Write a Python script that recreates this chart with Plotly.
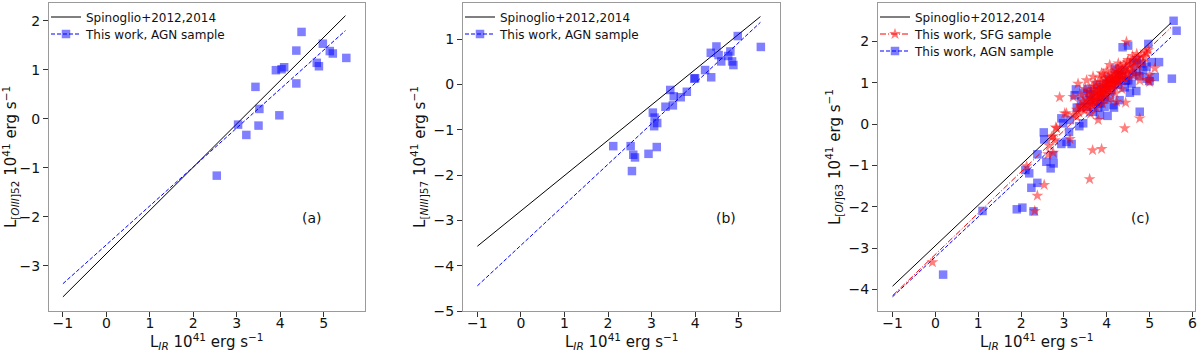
import numpy as np
import plotly.graph_objects as go

# ── Datos ──────────────────────────────────────────────────────────────────
# (a) [OIII]52, AGN
a_agn_x = [4.49, 4.98, 5.14, 5.21, 5.52, 4.37, 4.84, 4.89, 3.90, 4.03, 4.09, 4.37,
           3.43, 3.52, 3.98, 3.03, 3.50, 3.22, 2.54]
a_agn_y = [1.77, 1.53, 1.38, 1.33, 1.24, 1.39, 1.14, 1.07, 0.99, 1.01, 1.05, 0.72,
           0.65, 0.20, 0.07, -0.12, -0.14, -0.33, -1.16]

# (b) [NIII]57, AGN
b_agn_x = [4.98, 5.51, 4.49, 4.36, 4.54, 4.60, 4.81, 4.76, 4.85, 4.88, 4.23, 4.37,
           3.98, 4.00, 3.81, 3.67, 3.51, 3.43, 3.49, 3.32, 3.03, 3.07, 3.13, 3.06,
           3.12, 2.93, 2.12, 2.52, 2.58, 2.62, 2.55]
b_agn_y = [1.07, 0.83, 0.84, 0.70, 0.65, 0.51, 0.73, 0.63, 0.51, 0.43, 0.32, 0.16,
           0.13, 0.14, -0.16, -0.28, -0.26, -0.12, -0.46, -0.49, -0.62, -0.73, -0.85, -0.92,
           -1.38, -1.53, -1.36, -1.36, -1.55, -1.61, -1.91]

# (c) [OI]63, AGN
c_agn_x = [5.56, 5.63, 4.37, 4.50, 4.97, 5.22, 5.52, 5.12, 5.00, 4.76, 4.77, 4.69,
           4.54, 4.17, 4.02, 3.80, 3.74, 3.45, 3.36, 3.12, 2.98, 3.25, 3.28, 3.46,
           3.18, 2.94, 2.53, 2.54, 2.38, 2.59, 2.76, 2.69, 2.75, 2.19, 2.10, 2.38,
           2.24, 1.90, 2.03, 2.29, 1.10, 0.18, 2.94,
           4.19, 4.35, 4.62, 4.81, 4.93, 4.58, 4.42, 4.30, 3.88, 3.60, 3.68, 3.53,
           3.84, 3.14, 3.06, 3.99, 4.11, 4.23, 4.93, 4.69, 4.50, 4.15, 3.95,
           3.70, 3.62, 3.92, 4.05, 3.78, 4.28, 4.40, 3.55, 3.40, 3.30, 4.85, 5.05,
           4.70, 4.60, 4.25, 3.85, 4.08, 3.95, 4.45]
c_agn_y = [2.50, 2.26, 1.86, 1.90, 1.94, 1.50, 1.10, 1.14, 1.04, 1.16, 0.30, 0.80,
           0.76, 0.40, 0.20, 0.40, 0.54, 0.02, -0.05, -0.19, 0.02, 0.70, 0.84, 0.76,
           -0.48, -0.48, -0.20, -0.37, -0.73, -0.91, -0.95, -1.07, -0.75, -1.19, -1.11, -1.42,
           -1.54, -2.06, -2.02, -2.11, -2.10, -3.64, 0.14,
           1.34, 1.16, 1.47, 1.47, 1.39, 0.98, 0.89, 0.58, 0.66, 0.58, 0.30, 0.42,
           0.22, 0.10, -0.43, 0.98, 0.82, 1.06, 1.10, 1.27, 1.06, 0.46, 0.42,
           0.80, 0.72, 0.85, 1.10, 0.95, 1.20, 1.30, 0.85, 0.55, 0.40, 1.30, 1.50,
           1.55, 1.20, 0.95, 0.50, 0.65, 0.60, 1.05]

# (c) [OI]63, SFG
c_sfg_x = [4.46, 4.97, 4.93, 5.12, 5.00, 4.77, 4.50, 4.44, 4.23, 4.77, 4.42, 3.88,
           3.67, 3.60, 3.80, 2.90, 3.22, 3.02, 3.22, 2.83, 2.75, 2.79, 2.66, 3.14,
           2.63, 2.75, 2.13, 2.54, 2.38, 2.32, -0.07, 3.29, 3.41, 3.33, 4.97, 5.00,
           4.77, 3.06, 2.81, 2.71,
           3.30, 3.35, 3.38, 3.42, 3.45, 3.48, 3.50, 3.52, 3.55, 3.57, 3.60, 3.60,
           3.62, 3.64, 3.65, 3.67, 3.68, 3.70, 3.71, 3.72, 3.74, 3.75, 3.76, 3.78,
           3.79, 3.80, 3.81, 3.82, 3.84, 3.85, 3.86, 3.87, 3.88, 3.89, 3.90, 3.91,
           3.92, 3.93, 3.94, 3.95, 3.96, 3.97, 3.98, 3.99, 4.00, 4.01, 4.02, 4.03,
           4.04, 4.05, 4.06, 4.07, 4.08, 4.09, 4.10, 4.11, 4.12, 4.13, 4.14, 4.15,
           4.16, 4.17, 4.18, 4.19, 4.20, 4.21, 4.22, 4.23, 4.24, 4.25, 4.26, 4.27,
           4.28, 4.30, 4.31, 4.32, 4.34, 4.35, 4.36, 4.38, 4.40, 4.41, 4.43, 4.45,
           4.47, 4.48, 4.50, 4.52, 4.55, 4.57, 4.60, 4.62, 4.65, 4.68, 4.72, 4.75,
           4.80, 4.85, 4.90, 3.58, 3.66, 3.73, 3.83, 3.92, 4.00, 3.40, 3.50, 3.62,
           3.75, 3.90, 4.05, 4.20, 4.35, 3.53, 3.68, 3.88, 4.07, 4.27, 4.60, 4.70,
           4.88]
c_sfg_y = [1.99, 1.79, 1.71, 1.35, 1.19, 1.19, 1.55, 0.52, 0.54, 0.14, -0.10, -0.60,
           -0.63, -1.33, 0.10, 0.65, 0.66, 0.26, 0.22, -0.10, -0.29, -0.39, -0.52, -0.36,
           -0.73, -0.69, -1.02, -1.47, -1.73, -2.10, -3.34, 0.18, 0.38, 0.98, 1.06, 1.02,
           1.06, 0.26, -0.08, -0.31,
           0.35, 0.28, 0.45, 0.40, 0.55, 0.32, 0.48, 0.62, 0.42, 0.55, 0.68, 0.38,
           0.50, 0.60, 0.75, 0.45, 0.58, 0.66, 0.82, 0.52, 0.70, 0.60, 0.90, 0.68,
           0.78, 0.55, 0.85, 0.72, 0.95, 0.65, 0.80, 0.75, 1.02, 0.70, 0.88, 0.62,
           0.82, 0.95, 0.76, 1.10, 0.86, 0.70, 0.92, 1.00, 0.80, 1.05, 0.90, 1.15,
           0.84, 0.98, 1.08, 0.76, 1.00, 1.20, 0.92, 1.06, 0.85, 1.12, 1.00, 1.25,
           0.95, 1.10, 1.18, 0.90, 1.05, 1.30, 1.14, 0.98, 1.22, 1.08, 1.35, 1.18,
           1.02, 1.26, 1.12, 1.40, 1.20, 1.05, 1.32, 1.15, 1.45, 1.25, 1.10, 1.38,
           1.22, 1.50, 1.30, 1.15, 1.42, 1.28, 1.55, 1.35, 1.20, 1.48, 1.60, 1.40,
           1.65, 1.50, 1.75, 0.78, 0.92, 1.00, 1.12, 1.20, 1.30, 0.70, 0.85, 0.25,
           0.40, 0.50, 0.60, 0.75, 0.85, 1.06, 1.15, 1.23, 1.43, 1.47, 1.65, 1.70,
           1.62]

# Ajustes lineales (pendiente, ordenada) y rango en L_IR
fit_x = [-1.0, 5.5]
a_spin = (0.882, -2.75)
a_agn_fit = (0.794, -2.57)
b_spin = (0.780, -2.79)
b_agn_fit = (0.895, -3.55)
c_spin = (0.980, -2.94)
c_sfg_fit = (0.998, -3.15)
c_agn_fit = (0.966, -3.21)

# ── Estilos ────────────────────────────────────────────────────────────────
FONT = "DejaVu Sans"
BLUE_M = "rgba(0,0,255,0.5)"
RED_M = "rgba(255,0,0,0.5)"
W, H = 1200.0, 351.0
PT, PB = 3, 311            # top / bottom of the plot area in px
DASH_B = "4px,2px"
DASH_R = "6px,2px,1px,2px"


def line_y(p):
    return list(np.polyval(p, fit_x))


fig = go.Figure()
legends = {}
n_leg = [0]


def new_legend(x_px, y_px):
    n_leg[0] += 1
    key = "legend" if n_leg[0] == 1 else f"legend{n_leg[0]}"
    legends[key] = dict(x=x_px / W, y=1 - (y_px - PT) / (PB - PT),
                        xanchor="left", yanchor="middle",
                        bgcolor="rgba(0,0,0,0)", itemwidth=30,
                        font=dict(family=FONT, size=12, color="#111"))
    return key


def add_panel(i, left_px, spin, fits, scatters):
    xa = "x" if i == 1 else f"x{i}"
    ya = "y" if i == 1 else f"y{i}"
    lg = new_legend(left_px - 3, 17)
    fig.add_trace(go.Scatter(x=fit_x, y=line_y(spin), mode="lines",
                             line=dict(color="black", width=1),
                             name="Spinoglio+2012,2014", legend=lg,
                             xaxis=xa, yaxis=ya))
    for (sx, sy, color, symbol, size, name) in scatters:
        fig.add_trace(go.Scatter(x=sx, y=sy, mode="markers", showlegend=False,
                                 marker=dict(color=color, symbol=symbol, size=size,
                                             line=dict(width=0)),
                                 xaxis=xa, yaxis=ya))
    for (p, lcolor, dash) in fits:
        fig.add_trace(go.Scatter(x=fit_x, y=line_y(p), mode="lines", showlegend=False,
                                 line=dict(color=lcolor, width=1, dash=dash),
                                 xaxis=xa, yaxis=ya))
    # entradas de leyenda (línea + marcador)
    for k, (sx, sy, color, symbol, size, name) in enumerate(scatters[::-1]):
        agn = "AGN" in name
        lg = new_legend(left_px - 3, 17 + 17 * (k + 1))
        fig.add_trace(go.Scatter(x=[None], y=[None], mode="lines+markers", name=name,
                                 marker=dict(color=color, symbol=symbol, size=size),
                                 line=dict(color="blue" if agn else "red", width=1,
                                           dash=DASH_B if agn else DASH_R),
                                 legend=lg, xaxis=xa, yaxis=ya))


domains = [(49, 365), (463, 780), (878, 1195)]

add_panel(1, domains[0][0], a_spin, [(a_agn_fit, "blue", DASH_B)],
          [(a_agn_x, a_agn_y, BLUE_M, "square", 8.5, "This work, AGN sample")])
add_panel(2, domains[1][0], b_spin, [(b_agn_fit, "blue", DASH_B)],
          [(b_agn_x, b_agn_y, BLUE_M, "square", 8.5, "This work, AGN sample")])
add_panel(3, domains[2][0], c_spin, [(c_sfg_fit, "red", DASH_R), (c_agn_fit, "blue", DASH_B)],
          [(c_agn_x, c_agn_y, BLUE_M, "square", 8.5, "This work, AGN sample"),
           (c_sfg_x, c_sfg_y, RED_M, "star", 9, "This work, SFG sample")])

xranges = [[-1.32, 5.95], [-1.33, 5.95], [-1.34, 6.06]]
yranges = [[-3.92, 2.36], [-5.0, 1.80], [-4.52, 2.93]]
xticks = [list(range(-1, 6)), list(range(-1, 6)), list(range(-1, 7))]
yticks = [list(range(-3, 3)), list(range(-5, 2)), list(range(-4, 3))]
ytitles = ["L<sub>[<i>OIII</i>]52</sub> 10<sup>41</sup> erg s<sup>−1</sup>",
           "L<sub>[<i>NIII</i>]57</sub> 10<sup>41</sup> erg s<sup>−1</sup>",
           "L<sub>[<i>OI</i>]63</sub> 10<sup>41</sup> erg s<sup>−1</sup>"]
labels = [("(a)", 4.72, -2.03), ("(b)", 4.72, -2.94), ("(c)", 4.79, -2.28)]


def tick_text(vals):
    return [str(v).replace("-", "\u2212") for v in vals]


axis_common = dict(showline=True, mirror=True, linecolor="#9a9a9a", linewidth=1,
                   ticks="outside", ticklen=5, tickcolor="#333", showgrid=False,
                   zeroline=False, automargin=False,
                   tickfont=dict(family=FONT, size=14, color="#111"))

layout = dict(width=1200, height=351, margin=dict(l=0, r=0, t=PT, b=H - PB),
              plot_bgcolor="white", paper_bgcolor="white",
              font=dict(family=FONT, color="#111"), annotations=[])
layout.update(legends)

for i in range(3):
    sx = "" if i == 0 else str(i + 1)
    d0, d1 = domains[i]
    layout[f"xaxis{sx}"] = dict(domain=[d0 / W, d1 / W], range=xranges[i],
                                tickvals=xticks[i], ticktext=tick_text(xticks[i]),
                                ticklabelstandoff=-6,
                                anchor=f"y{sx}", **axis_common)
    layout[f"yaxis{sx}"] = dict(domain=[0, 1], range=yranges[i],
                                tickvals=yticks[i], ticktext=tick_text(yticks[i]),
                                title=dict(text=ytitles[i], standoff=4,
                                           font=dict(family=FONT, size=15, color="#111")),
                                anchor=f"x{sx}", **axis_common)
    layout["annotations"].append(dict(
        text="L<sub><i>IR</i></sub> 10<sup>41</sup> erg s<sup>−1</sup>",
        xref="paper", yref="paper", x=(d0 + d1) / 2 / W, y=(PB - 341) / (PB - PT),
        xanchor="center", yanchor="middle", showarrow=False,
        font=dict(family=FONT, size=15, color="#111")))
    t, tx, ty = labels[i]
    layout["annotations"].append(dict(
        text=t, xref=f"x{sx}", yref=f"y{sx}", x=tx, y=ty, showarrow=False,
        font=dict(family=FONT, size=14, color="#111")))

fig.update_layout(**layout)
fig.write_html("out.html", config={"displayModeBar": False},
               post_script="document.body.style.margin='0px';")
